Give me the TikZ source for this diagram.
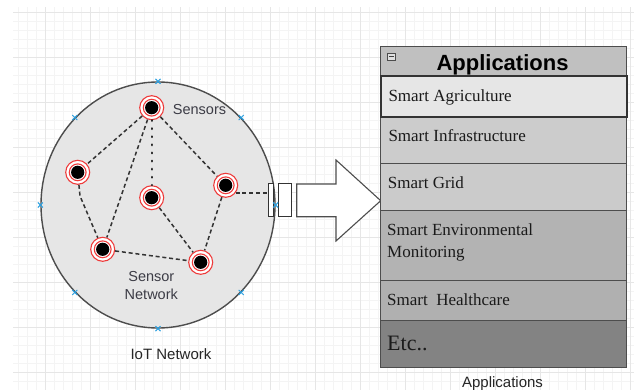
\documentclass[tikz,border=0pt]{standalone}
\usepackage{fontspec}
\setmainfont{Liberation Serif}
\setsansfont{Liberation Sans}
\usetikzlibrary{shapes.geometric,calc}

\definecolor{gridminor}{HTML}{F4F4F4}
\definecolor{gridmajor}{HTML}{E6E6E6}
\definecolor{netfill}{HTML}{E6E6E6}
\definecolor{outline}{HTML}{4D4D4D}
\definecolor{sred}{HTML}{EE3B3B}
\definecolor{tick}{HTML}{2A9FE0}
\definecolor{labelgray}{HTML}{3C3C46}
\definecolor{rowtext}{HTML}{1A1A1A}
\definecolor{hdrfill}{HTML}{C0C0C0}
\definecolor{rowA}{HTML}{E6E6E6}
\definecolor{rowB}{HTML}{CCCCCC}
\definecolor{rowC}{HTML}{CBCBCB}
\definecolor{rowD}{HTML}{B3B3B3}
\definecolor{rowE}{HTML}{B0B0B0}
\definecolor{rowF}{HTML}{838383}

\begin{document}
\begin{tikzpicture}[x=1pt,y=-1pt,
  edge/.style={draw=black!80, line width=1.5pt, dash pattern=on 4pt off 2.8pt},
  dotedge/.style={draw=black!85, line width=2.4pt, dash pattern=on 0.6pt off 7.5pt, line cap=round},
  sensor/.style={circle, minimum size=24pt, inner sep=0pt, draw=sred, line width=1.1pt, fill=white,
    path picture={
      \fill[black] (path picture bounding box.center) circle (6.6pt);
      \draw[sred, line width=1.1pt] (path picture bounding box.center) circle (8.4pt);}},
  conn/.pic={\draw[tick, line width=1pt] (-2.5,-2.5) -- (2.5,2.5) (-2.5,2.5) -- (2.5,-2.5);},
  plug/.style={rectangle, draw=black!80, fill=white, line width=1pt, inner sep=0pt, minimum height=32.7pt},
  row/.style={rectangle, anchor=north west, draw=outline, line width=1.2pt, inner sep=0pt, minimum width=245.7pt},
  rowlabel/.style={anchor=base west, inner sep=0pt, text=rowtext, font=\fontsize{17}{20}\selectfont},
  caption/.style={inner sep=0pt, anchor=base, text=black!85, font=\sffamily\fontsize{15}{18}\selectfont}
]
% canvas
\useasboundingbox (0,0) rectangle (634,390);
\fill[white] (0,0) rectangle (634,390);

% background grid
\begin{scope}
  \clip (13,8) rectangle (634,390);
  \foreach \x in {0.7,9.7,...,634} \draw[gridminor, line width=0.7pt] (\x,0) -- (\x,390);
  \foreach \y in {3,12,...,390} \draw[gridminor, line width=0.7pt] (0,\y) -- (634,\y);
  \foreach \x in {0.7,45.7,...,634} \draw[gridmajor, line width=0.8pt] (\x,0) -- (\x,390);
  \foreach \y in {12,57,...,390} \draw[gridmajor, line width=0.8pt] (0,\y) -- (634,\y);
\end{scope}

% sensor network
\node[ellipse, draw=outline, fill=netfill, line width=1.4pt, inner sep=0pt,
      minimum width=234pt, minimum height=246pt] (net) at (158,205) {};

\node[sensor] (T)  at (151.7,107.7) {};
\node[sensor] (L)  at (77.7,172.3) {};
\node[sensor] (C)  at (151.7,197.7) {};
\node[sensor] (R)  at (225.7,185.3) {};
\node[sensor] (BL) at (102.7,249.3) {};
\node[sensor] (BR) at (200.7,262.3) {};

\draw[edge] (T) -- (L);
\draw[edge] (T) -- (R);
\draw[edge] (T) -- (BL);
\draw[dotedge] (T) -- (C);
\draw[edge] (L) -- (80,196) -- (BL);
\draw[edge] (BL) -- (BR);
\draw[edge] (C) -- (BR);
\draw[edge] (R) -- (BR);

\node[anchor=base west, inner sep=0pt, text=labelgray, font=\sffamily\fontsize{14.5}{17}\selectfont]
  (sens) at (172.7,114.7) {Sensors};
\node[anchor=base, inner sep=0pt, text=labelgray, align=center,
      font=\sffamily\fontsize{14.5}{17.4}\selectfont] (sn) at (151.3,299.3) {Sensor\\Network};

% plug and arrow towards the applications
\node[plug, minimum width=4.7pt]  (p1) at (271.3,200.3) {};
\node[plug, minimum width=13.4pt] (p2) at (285,200.3) {};
\draw[edge] (R.-38) -- (R.-38 -| p1.west);
\draw[draw=outline, fill=white, line width=1.1pt]
  (296.7,184) -- (336,184) -- (336,160) -- (380.7,200.7) -- (336,241)
  -- (336,216.7) -- (296.7,216.7) -- cycle;

% connection points of the network shape
\foreach \a in {north, south, east, west, north west, north east, south west, south east}
  \pic at (net.\a) {conn};

\node[caption] (iot) at (171,359.3) {IoT Network};

% applications list
\node[row, fill=hdrfill, minimum height=29.5pt] (hdr) at (380,46) {};
\node[row, fill=rowB, minimum height=47.3pt] (r2) at (380,116) {};
\node[row, fill=rowC, minimum height=46.7pt] (r3) at (380,163.3) {};
\node[row, fill=rowD, minimum height=70pt]   (r4) at (380,210) {};
\node[row, fill=rowE, minimum height=40pt]   (r5) at (380,280) {};
\node[row, fill=rowF, minimum height=46.7pt] (r6) at (380,320) {};
\node[row, fill=rowA, draw=black!80, line width=2pt, minimum height=40.5pt] (r1) at (380,75.5) {};

\node[rectangle, draw=black!70, fill=black!12, line width=0.8pt, inner sep=0pt,
      minimum width=7.7pt, minimum height=7.4pt] (fold) at (391.2,57) {};
\draw[black!75, line width=1pt] ($(fold.west)+(1.8,0)$) -- ($(fold.east)+(-1.8,0)$);

\node[anchor=base, inner sep=0pt, font=\sffamily\bfseries\fontsize{22}{26}\selectfont]
  (title) at (502.5,70.7) {Applications};

\node[rowlabel] (t1) at (388.3,102)   {Smart Agriculture};
\node[rowlabel] (t2) at (388.3,141.7) {Smart Infrastructure};
\node[rowlabel] (t3) at (387.7,188.3) {Smart Grid};
\node[rowlabel] (t4) at (387,235)     {Smart Environmental};
\node[rowlabel] (t4b) at (387,257.3)  {Monitoring};
\node[rowlabel] (t5) at (387,305.7)   {Smart\ \ Healthcare};
\node[rowlabel, font=\fontsize{22}{26}\selectfont] (t6) at (387,350) {Etc..};

\node[caption] (appcap) at (502.5,387.7) {Applications};
\end{tikzpicture}
\end{document}
